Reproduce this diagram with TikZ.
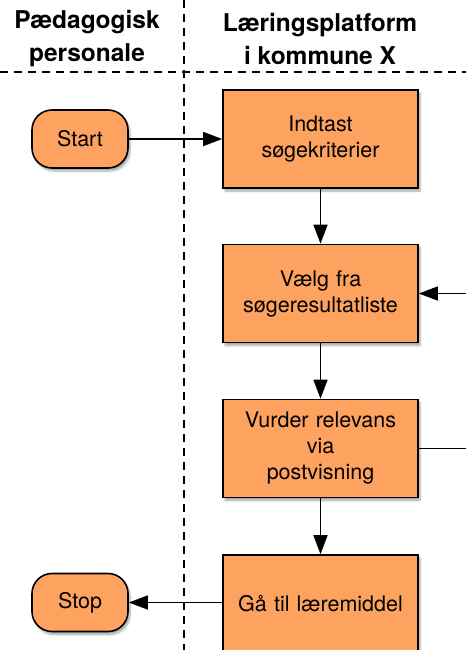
\documentclass[tikz,border=0pt]{standalone}
\usepackage{fontspec}
\setmainfont{TeX Gyre Heros}
\usetikzlibrary{arrows.meta,shadows.blur}
\definecolor{boxfill}{HTML}{FDA25F}
\tikzset{
  every node/.style={font=\fontsize{21.5}{26}\selectfont},
  proc/.style={draw=black, line width=1.6pt, fill=boxfill, minimum width=195pt, minimum height=98pt, align=center, inner sep=0pt, text width=190pt,
    blur shadow={shadow xshift=2pt, shadow yshift=-3pt, shadow blur steps=6, shadow opacity=35}},
  term/.style={draw=black, line width=1.6pt, fill=boxfill, minimum width=96pt, minimum height=58pt, rounded corners=20pt, inner sep=0pt,
    blur shadow={shadow xshift=2pt, shadow yshift=-3pt, shadow blur steps=6, shadow opacity=35}},
  hdr/.style={font=\fontsize{24.5}{33}\selectfont\bfseries, align=center},
  conn/.style={line width=1.5pt, -{Triangle[length=19pt,width=14pt]}},
  plain/.style={line width=1.5pt},
  lane/.style={line width=1.5pt, dash pattern=on 8pt off 6pt},
}
\begin{document}
\begin{tikzpicture}[x=1pt,y=-1pt]
\useasboundingbox (0,0) rectangle (466,650);
\coordinate (vtop) at (184,0);
\coordinate (vbot) at (184,650);
\coordinate (hl) at (0,72);
\coordinate (hr) at (466,72);
\draw[lane] (vtop) -- (vbot);
\draw[lane] (hl) -- (hr);
\node[hdr] (h1) at (87,39) {Pædagogisk\\personale};
\node[hdr] (h2) at (320,39) {Læringsplatform\\i kommune X};

\node[term] (start) at (80,139) {Start};
\node[term] (stop) at (80,602.5) {Stop};
\node[proc] (b1) at (320.5,139) {Indtast\\søgekriterier};
\node[proc] (b2) at (320.5,293.5) {Vælg fra\\søgeresultatliste};
\node[proc] (b3) at (320.5,448.5) {Vurder relevans\\via\\postvisning};
\node[proc] (b4) at (320.5,604) {Gå til læremiddel};

\coordinate (in2) at (466,293.5);
\coordinate (out3) at (466,448.5);

\draw[conn] (start) -- (b1);
\draw[conn] (b1) -- (b2);
\draw[conn] (b2) -- (b3);
\draw[conn] (b3) -- (b4);
\draw[conn] (in2) -- (b2);
\draw[plain] (b3) -- (out3);
\draw[conn] (b4.west |- stop) -- (stop);
\end{tikzpicture}
\end{document}
